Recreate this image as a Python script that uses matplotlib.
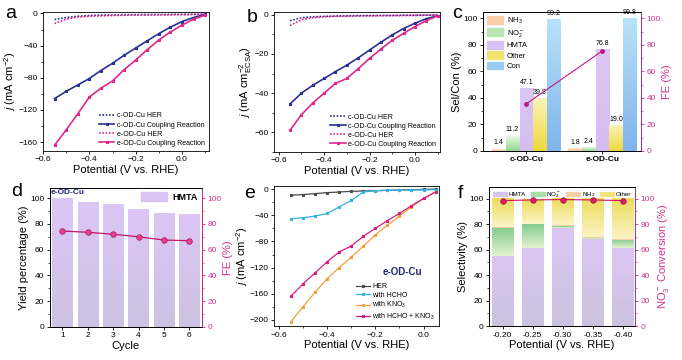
import numpy as np
import matplotlib.pyplot as plt
from matplotlib.colors import LinearSegmentedColormap
from matplotlib.patches import Patch
from matplotlib.ticker import AutoMinorLocator

plt.rcParams['font.family'] = ['Liberation Sans', 'DejaVu Sans']
plt.rcParams['mathtext.fontset'] = 'custom'
plt.rcParams['mathtext.rm'] = 'Liberation Sans'
plt.rcParams['mathtext.it'] = 'Liberation Sans:italic'
plt.rcParams['mathtext.bf'] = 'Liberation Sans:bold'
plt.rcParams['font.size'] = 6
plt.rcParams['axes.linewidth'] = 0.6

# ---- data ----
# panels a, b: LSV curves
pot_ab = [-0.55, -0.50, -0.45, -0.40, -0.35, -0.30, -0.25, -0.20, -0.15, -0.10, -0.05, 0.00, 0.05, 0.10]
a_c_her = [-7.5, -5, -3.5, -2.5, -2, -1.8, -1.6, -1.5, -1.4, -1.3, -1.2, -1.1, -1, -0.8]
a_c_cpl = [-106, -97, -89, -81, -71, -62, -52, -43, -34, -25, -17, -10, -5, -1]
a_e_her = [-12.5, -7, -4.5, -3.5, -3, -2.5, -2.2, -2, -1.8, -1.7, -1.6, -1.5, -1.3, -1]
a_e_cpl = [-164, -145, -125, -104, -93, -84, -70, -58, -45, -33, -23, -14.5, -7, -2]
b_c_her = [-3, -1.5, -1, -0.8, -0.6, -0.5, -0.4, -0.4, -0.3, -0.3, -0.2, -0.2, -0.1, -0.1]
b_c_cpl = [-45.5, -40, -36, -32.5, -29, -25.7, -22, -18, -14, -10.3, -7, -4.3, -2, -0.5]
b_e_her = [-5.5, -2.5, -1.5, -1.0, -0.8, -0.7, -0.6, -0.5, -0.5, -0.4, -0.4, -0.3, -0.2, -0.1]
b_e_cpl = [-59, -51, -45, -40, -35, -32.5, -27.5, -22.3, -17.5, -13, -9.5, -6, -3, -0.5]
ab_labels = ['c-OD-Cu HER', 'c-OD-Cu Coupling Reaction', 'e-OD-Cu HER', 'e-OD-Cu Coupling Reaction']

# panel c: selectivity / conversion
cats_c = ['c-OD-Cu', 'e-OD-Cu']
sel_names = ['NH$_3$', 'NO$_2^-$', 'HMTA', 'Other', 'Con']
sel_vals = {
    'NH3': [1.4, 1.8],
    'NO2': [11.2, 2.4],
    'HMTA': [47.1, 76.8],
    'Other': [39.8, 19.0],
    'Con': [99.2, 99.8],
}
fe_c = [35.5, 75.5]

# panel d: cycling
cycles = [1, 2, 3, 4, 5, 6]
hmta_yield = [99.5, 97, 95, 91.5, 88.5, 87.5]
fe_d = [74.5, 73.5, 72, 70, 67.5, 67]

# panel e: control LSVs
pot_e = [-0.55, -0.50, -0.45, -0.40, -0.35, -0.30, -0.25, -0.20, -0.15, -0.10, -0.05, 0.00, 0.05]
e_her = [-9, -8, -6.5, -5, -4, -3, -2.5, -2, -1.5, -1, -0.5, 0, 0.5]
e_hcho = [-45, -43.5, -41, -37, -27, -17, -4, -2, -1.5, -1.2, -1, -0.8, -0.5]
e_kno3 = [-203, -180, -158, -137, -120, -104, -87, -70, -55, -41, -27, -14, -4]
e_both = [-164, -145, -128, -111, -96, -87, -72, -60, -48, -37, -25, -14, -4]
e_labels = ['HER', 'with HCHO', 'with KNO$_3$', 'with HCHO + KNO$_3$']

# panel f: potential-dependent selectivity
pot_f = ['-0.20', '-0.25', '-0.30', '-0.35', '-0.40']
f_hmta = [55, 61.5, 77, 68, 61]
f_no2 = [22, 18.5, 1.5, 1, 6.5]
f_nh3 = [0.5, 0.5, 0.5, 0.7, 0.5]
f_other = [22.5, 19.5, 21, 30.3, 32]
f_conv = [98.5, 99, 99.3, 99, 98.5]

BLUE = '#2b3192'
PINK = '#e0288c'
FE = '#d4318c'
NAVY = '#25257a'


def style(ax):
    ax.tick_params(which='major', length=2.5, width=0.6, pad=1.5, labelsize=6)
    ax.tick_params(which='minor', length=1.5, width=0.5)
    ax.xaxis.set_minor_locator(AutoMinorLocator(2))
    ax.yaxis.set_minor_locator(AutoMinorLocator(2))


def right_axis(ax, label):
    tw = ax.twinx()
    tw.spines['right'].set_color(FE)
    tw.tick_params(axis='y', which='both', colors=FE, labelsize=6, pad=1.5)
    tw.tick_params(which='major', length=2.5, width=0.6)
    tw.tick_params(which='minor', length=1.5, width=0.5)
    tw.yaxis.set_minor_locator(AutoMinorLocator(2))
    tw.set_ylabel(label, color=FE, fontsize=8, labelpad=1)
    return tw


def grad(ax, bars, c_bot, c_top, z=1.5):
    cmap = LinearSegmentedColormap.from_list('g', [c_bot, c_top])
    for b in bars:
        x0, y0 = b.get_xy()
        w, h = b.get_width(), b.get_height()
        b.set_alpha(0)
        if h <= 0:
            continue
        ax.imshow(np.linspace(0, 1, 64).reshape(-1, 1), cmap=cmap, origin='lower',
                  extent=[x0, x0 + w, y0, y0 + h], aspect='auto', zorder=z,
                  interpolation='bilinear')


fig = plt.figure(figsize=(6.82, 3.6), dpi=100)
mk = dict(marker='*', ms=2)

# ---- a ----
ax = fig.add_axes([0.063, 0.581, 0.243, 0.386])
ax.plot(pot_ab, a_c_her, ls=(0, (1, 1)), color=BLUE, lw=1.2)
ax.plot(pot_ab, a_c_cpl, '-', color=BLUE, lw=1.2, **mk)
ax.plot(pot_ab, a_e_her, ls=(0, (1, 1)), color=PINK, lw=1.2)
ax.plot(pot_ab, a_e_cpl, '-', color=PINK, lw=1.2, **mk)
ax.set_xlim(-0.6, 0.115)
ax.set_ylim(-171, 2)
ax.set_xticks([-0.6, -0.4, -0.2, 0.0])
ax.set_yticks([0, -40, -80, -120, -160])
ax.set_xlabel('Potential (V vs. RHE)', fontsize=8, labelpad=1)
ax.set_ylabel('$j$ (mA cm$^{-2}$)', fontsize=8, labelpad=0)
style(ax)
ax.legend(ab_labels, loc='lower right', frameon=False, fontsize=5, handlelength=2.2,
          labelspacing=0.3, borderaxespad=0.2, handletextpad=0.3)

# ---- b ----
ax = fig.add_axes([0.402, 0.578, 0.243, 0.389])
ax.plot(pot_ab, b_c_her, ls=(0, (1, 1)), color=BLUE, lw=1.2)
ax.plot(pot_ab, b_c_cpl, '-', color=BLUE, lw=1.2, **mk)
ax.plot(pot_ab, b_e_her, ls=(0, (1, 1)), color=PINK, lw=1.2)
ax.plot(pot_ab, b_e_cpl, '-', color=PINK, lw=1.2, **mk)
ax.set_xlim(-0.62, 0.11)
ax.set_ylim(-70, 1.5)
ax.set_xticks([-0.6, -0.4, -0.2, 0.0])
ax.set_yticks([0, -20, -40, -60])
ax.set_xlabel('Potential (V vs. RHE)', fontsize=8, labelpad=1)
ax.set_ylabel('$j$ (mA cm$^{-2}_{\\rm ECSA}$)', fontsize=8, labelpad=0)
style(ax)
ax.legend(ab_labels, loc='lower right', frameon=False, fontsize=5, handlelength=2.2,
          labelspacing=0.3, borderaxespad=0.2, handletextpad=0.3)

# ---- c ----
ax = fig.add_axes([0.708, 0.581, 0.232, 0.386])
xc = np.arange(len(cats_c))
w = 0.175
grads_c = [('#f6c49a', '#fbe2cc'), ('#8fd68f', '#eaf7e2'), ('#d6bdf0', '#dcc6f4'),
           ('#ecd83c', '#fbf3b8'), ('#80b4ec', '#b8e2f8')]
legend_cols = ['#f8cfa8', '#b9e6b2', '#d8c0f2', '#f2e470', '#9cccf2']
for i, key in enumerate(['NH3', 'NO2', 'HMTA', 'Other', 'Con']):
    bars = ax.bar(xc + (i - 2) * 0.18, sel_vals[key], w, color=legend_cols[i])
    grad(ax, bars, *grads_c[i])
    for xi, v in zip(xc + (i - 2) * 0.18, sel_vals[key]):
        ax.text(xi, v + 2, f'{v:.1f}', ha='center', va='bottom', fontsize=5)
ax.set_xlim(-0.57, 1.51)
ax.set_ylim(0, 105)
ax.set_xticks(xc)
ax.set_xticklabels(cats_c, fontsize=8, fontweight='bold')
ax.set_yticks([0, 20, 40, 60, 80, 100])
ax.set_ylabel('Sel/Con (%)', fontsize=8, labelpad=1)
style(ax)
ax.xaxis.set_minor_locator(plt.NullLocator())
ax.legend([Patch(color=c) for c in legend_cols], sel_names, loc='upper left', frameon=False,
          fontsize=5.5, handlelength=2.2, handleheight=1.2, labelspacing=0.25,
          borderaxespad=0.1, handletextpad=0.4)
tw = right_axis(ax, 'FE (%)')
tw.plot(xc, fe_c, '-', color='#c0168a', lw=0.8, marker='o', ms=2.5)
tw.set_ylim(0, 105)
tw.set_yticks([0, 20, 40, 60, 80, 100])

# ---- d ----
ax = fig.add_axes([0.073, 0.092, 0.223, 0.386])
bars = ax.bar(cycles, hmta_yield, 0.8, color='#d8c4f2')
grad(ax, bars, '#cdc2e2', '#dcc6f5')
ax.set_xlim(0.5, 6.5)
ax.set_ylim(0, 108)
ax.set_xticks(cycles)
ax.set_yticks([0, 20, 40, 60, 80, 100])
ax.set_xlabel('Cycle', fontsize=8, labelpad=1)
ax.set_ylabel('Yield percentage (%)', fontsize=8, labelpad=1)
style(ax)
ax.xaxis.set_minor_locator(plt.NullLocator())
ax.text(0.53, 104.2, 'e-OD-Cu', color=NAVY, fontsize=6,
        fontweight='bold', va='center', ha='left', zorder=5)
ax.legend([Patch(color='#d8c4f2')], ['HMTA'], loc='upper right', frameon=False,
          prop={'weight': 'bold', 'size': 6.5}, handlelength=2.8, handleheight=1.1,
          borderaxespad=0.1, handletextpad=0.6)
tw = right_axis(ax, 'FE (%)')
tw.plot(cycles, fe_d, '-', color='#c0166a', lw=0.9, marker='o', ms=4,
        mfc='#e8408e', mec='#a0105a', mew=0.5)
tw.set_ylim(0, 108)
tw.set_yticks([0, 20, 40, 60, 80, 100])

# ---- e ----
ax = fig.add_axes([0.402, 0.094, 0.242, 0.389])
ax.plot(pot_e, e_her, '-', color='#4a4a4a', lw=0.9, **mk)
ax.plot(pot_e, e_hcho, '-', color='#35b3e6', lw=0.9, **mk)
ax.plot(pot_e, e_kno3, '-', color='#f0a040', lw=0.9, **mk)
ax.plot(pot_e, e_both, '-', color='#d81e7c', lw=0.9, **mk)
ax.set_xlim(-0.62, 0.065)
ax.set_ylim(-210, 5)
ax.set_xticks([-0.6, -0.4, -0.2, 0.0])
ax.set_yticks([0, -40, -80, -120, -160, -200])
ax.set_xlabel('Potential (V vs. RHE)', fontsize=8, labelpad=1)
ax.set_ylabel('$j$ (mA cm$^{-2}$)', fontsize=8, labelpad=0)
style(ax)
ax.text(0.78, 0.385, 'e-OD-Cu', transform=ax.transAxes, color=NAVY, fontsize=7,
        fontweight='bold', ha='center', va='center')
ax.legend(e_labels, loc='lower right', frameon=False, fontsize=5, handlelength=2.0,
          labelspacing=0.2, borderaxespad=0.2, handletextpad=0.3)

# ---- f ----
ax = fig.add_axes([0.717, 0.094, 0.214, 0.386])
xf = np.arange(len(pot_f))
wf = 0.7
b1 = ax.bar(xf, f_hmta, wf, color='#d6c4ee')
grad(ax, b1, '#cbc3de', '#dbc6f3')
bot = np.array(f_hmta)
b2 = ax.bar(xf, f_no2, wf, bottom=bot, color='#a8dca8')
grad(ax, b2, '#e2f3cf', '#84cc8e')
bot = bot + np.array(f_no2)
b3 = ax.bar(xf, f_nh3, wf, bottom=bot, color='#f5cfa6')
grad(ax, b3, '#f5cfa6', '#f5cfa6')
bot = bot + np.array(f_nh3)
b4 = ax.bar(xf, f_other, wf, bottom=bot, color='#efe37a')
grad(ax, b4, '#fbf4c6', '#ecdc5a')
ax.set_xlim(-0.45, 4.4)
ax.set_ylim(0, 109)
ax.set_xticks(xf)
ax.set_xticklabels(pot_f)
ax.set_yticks([0, 20, 40, 60, 80, 100])
ax.set_xlabel('Potential (V vs. RHE)', fontsize=8, labelpad=1)
ax.set_ylabel('Selectivity (%)', fontsize=8, labelpad=1)
style(ax)
ax.xaxis.set_minor_locator(plt.NullLocator())
ax.legend([Patch(color=c) for c in ['#d6c4ee', '#a8dca8', '#f5cfa6', '#efe37a']],
          ['HMTA', 'NO$_2^-$', 'NH$_3$', 'Other'], loc='upper center', ncol=4,
          frameon=False, fontsize=4.5, handlelength=2.2, columnspacing=0.8,
          handletextpad=0.3, borderaxespad=0.05)
tw = right_axis(ax, 'NO$_3^-$ Conversion (%)')
tw.plot(xf, f_conv, '-', color='#d0105a', lw=0.8, marker='o', ms=4,
        mfc='#d81e64', mec='#a00c48', mew=0.5)
tw.set_ylim(0, 109)
tw.set_yticks([0, 20, 40, 60, 80, 100])

# panel letters
for lab, (px, py) in zip('abcdef', [(11, 13), (252, 17), (457, 13), (17, 192), (250, 193), (460, 193)]):
    fig.text(px / 682, 1 - py / 360, lab, fontsize=14, ha='center', va='center')

fig.savefig('out.png', dpi=100)
